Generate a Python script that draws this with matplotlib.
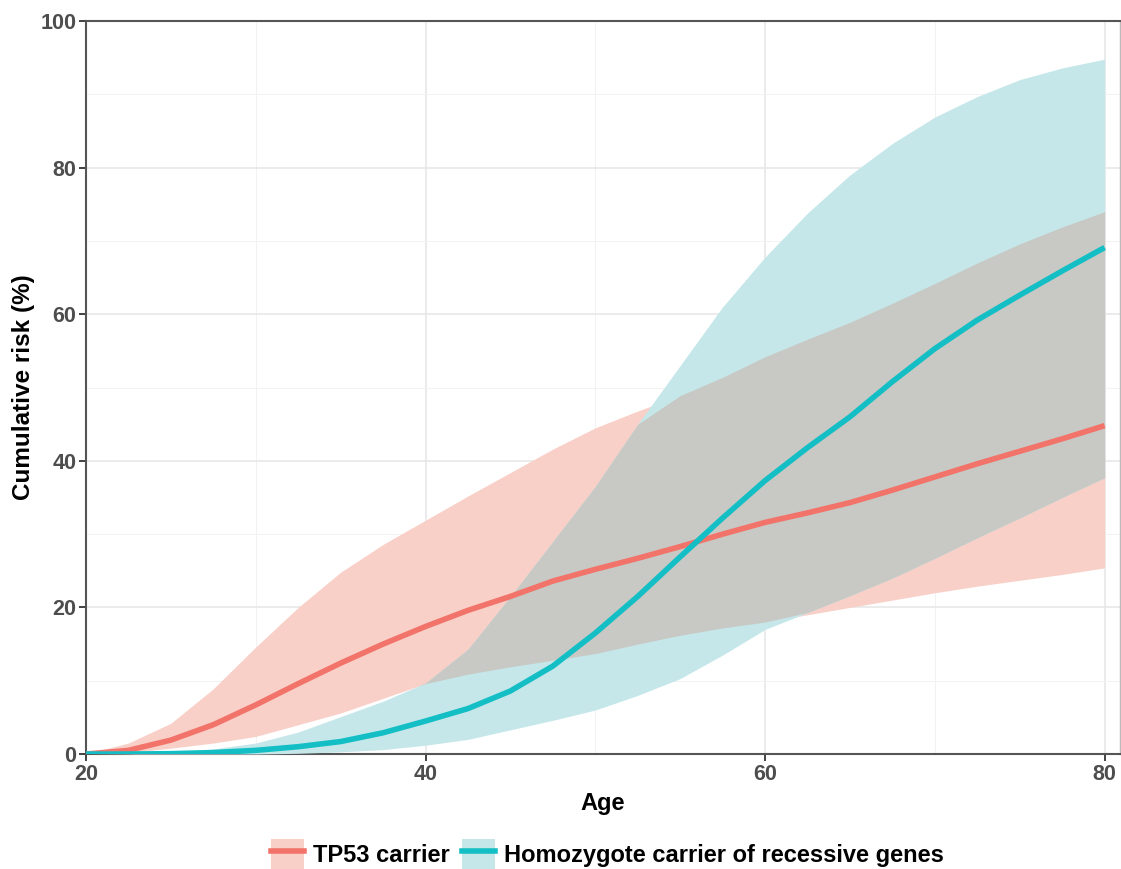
import numpy as np
import matplotlib
matplotlib.use("Agg")
import matplotlib.pyplot as plt
from matplotlib.patches import Patch
from matplotlib.lines import Line2D

plt.rcParams["font.family"] = ["Liberation Sans", "DejaVu Sans"]

# edad (años) y riesgo acumulado (%)
ages = [20, 22.5, 25, 27.5, 30, 32.5, 35, 37.5, 40, 42.5, 45, 47.5, 50,
        52.5, 55, 57.5, 60, 62.5, 65, 67.5, 70, 72.5, 75, 77.5, 80]

tp53_mid = [0, 0.5, 1.9, 4.0, 6.7, 9.6, 12.4, 15.0, 17.4, 19.6, 21.5, 23.6, 25.2,
            26.7, 28.3, 30.0, 31.6, 32.9, 34.3, 36.0, 37.8, 39.6, 41.3, 43.0, 44.8]
tp53_hi = [0, 1.5, 4.2, 8.9, 14.6, 20.0, 24.8, 28.6, 31.9, 35.2, 38.4, 41.6, 44.5,
           46.8, 48.9, 51.4, 54.2, 56.6, 58.9, 61.5, 64.2, 67.0, 69.6, 71.9, 74.0]
tp53_lo = [0, 0.2, 0.8, 1.5, 2.4, 4.0, 5.6, 7.6, 9.6, 10.9, 11.9, 12.8, 13.7,
           15.0, 16.2, 17.2, 18.0, 19.0, 20.0, 21.0, 22.0, 22.9, 23.7, 24.5, 25.4]

homo_mid = [0, 0, 0.05, 0.2, 0.5, 1.0, 1.7, 2.9, 4.5, 6.2, 8.6, 12.0, 16.5,
            21.5, 26.9, 32.2, 37.3, 41.8, 46.0, 50.8, 55.3, 59.2, 62.6, 65.9, 69.1]
homo_hi = [0, 0.05, 0.2, 0.7, 1.5, 3.0, 5.1, 7.2, 9.7, 14.3, 21.5, 29.0, 36.5,
           45.0, 53.0, 61.0, 67.8, 73.8, 79.0, 83.3, 86.9, 89.7, 92.0, 93.6, 94.8]
homo_lo = [0, 0, 0, 0, 0, 0.1, 0.3, 0.6, 1.2, 2.0, 3.3, 4.6, 6.0,
           8.0, 10.3, 13.5, 17.0, 19.3, 21.6, 24.0, 26.7, 29.5, 32.2, 35.0, 37.7]

labels = ["TP53 carrier", "Homozygote carrier of recessive genes"]
red = "#F2736A"
teal = "#13BEC4"
red_fill = "#F8D0C8"
teal_fill = "#C5E7EA"
both_fill = "#C8C9C4"

fig = plt.figure(figsize=(11.21, 8.69), dpi=100)
ax = fig.add_axes([0.0767, 0.1323, 0.9223, 0.8435])

# bandas: rosa, turquesa y gris donde se solapan
ax.fill_between(ages, tp53_lo, tp53_hi, color=red_fill, linewidth=0, zorder=2)
ax.fill_between(ages, homo_lo, homo_hi, color=teal_fill, linewidth=0, zorder=3)
ov_lo = np.maximum(tp53_lo, homo_lo)
ov_hi = np.minimum(tp53_hi, homo_hi)
ax.fill_between(ages, ov_lo, ov_hi, where=ov_hi > ov_lo, interpolate=True,
                color=both_fill, linewidth=0, zorder=4)

ax.plot(ages, tp53_mid, color=red, lw=4, solid_capstyle="butt", zorder=5)
ax.plot(ages, homo_mid, color=teal, lw=4, solid_capstyle="butt", zorder=6)

ax.set_xlim(20, 80.9)
ax.set_ylim(0, 100)
ax.set_xticks([20, 40, 60, 80])
ax.set_yticks([0, 20, 40, 60, 80, 100])
ax.set_xticks([30, 50, 70], minor=True)
ax.set_yticks([10, 30, 50, 70, 90], minor=True)
ax.grid(which="major", color="#e6e6e6", lw=1.1, zorder=0)
ax.grid(which="minor", color="#f2f2f2", lw=0.7, zorder=0)
ax.set_axisbelow(True)

ax.tick_params(which="major", length=5, width=1.3, color="#333333",
               labelsize=15.5, labelcolor="#4d4d4d", pad=2)
ax.tick_params(which="minor", length=0)
for lab in ax.get_xticklabels() + ax.get_yticklabels():
    lab.set_fontweight("bold")

for side in ["left", "bottom", "top"]:
    ax.spines[side].set_color("#555555")
    ax.spines[side].set_linewidth(1.5)
ax.spines["right"].set_color("#bbbbbb")
ax.spines["right"].set_linewidth(1.0)

ax.set_xlabel("Age", fontsize=17, fontweight="bold", labelpad=5)
ax.set_ylabel("Cumulative risk (%)", fontsize=17.5, fontweight="bold", labelpad=4)

handles = [
    (Patch(facecolor=red_fill, lw=0), Line2D([], [], color=red, lw=4)),
    (Patch(facecolor=teal_fill, lw=0), Line2D([], [], color=teal, lw=4)),
]
fig.legend(handles, labels, loc="center", bbox_to_anchor=(0.542, 0.017),
           ncol=2, frameon=False, prop={"size": 17, "weight": "bold"},
           handlelength=1.4, handleheight=1.6, handletextpad=0.4,
           columnspacing=0.5)

fig.savefig("out.png", dpi=100)
